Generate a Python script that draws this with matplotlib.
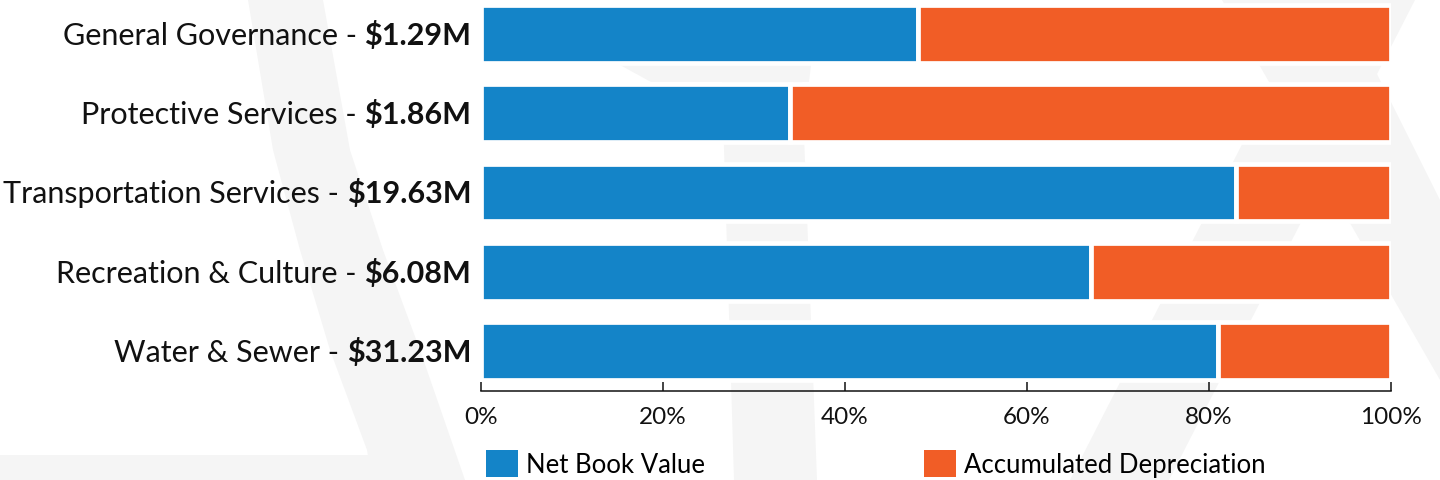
import matplotlib.pyplot as plt
from matplotlib.patches import Patch, Polygon

categories = ["General Governance", "Protective Services", "Transportation Services",
              "Recreation & Culture", "Water & Sewer"]
totals = ["$1.29M", "$1.86M", "$19.63M", "$6.08M", "$31.23M"]
net_book_value = [48.0, 34.0, 83.0, 67.0, 81.0]
accumulated_depreciation = [52.0, 66.0, 17.0, 33.0, 19.0]
x_ticks = [0, 20, 40, 60, 80, 100]
series_names = ["Net Book Value", "Accumulated Depreciation"]

BLUE = "#1484C8"
ORANGE = "#F15D26"
WATERMARK = "#F5F5F5"

W, H = 1440, 480
plt.rcParams["font.family"] = ["Lato", "DejaVu Sans"]

fig = plt.figure(figsize=(W / 100, H / 100), dpi=100)

# faint background logo shapes (pixel coords, y from the top)
shapes = [
    [(248, 0), (323, 0), (350, 150), (383, 250), (420, 350), (465, 480),
     (372, 480), (367, 450), (330, 350), (300, 250), (273, 150)],
    [(0, 455), (370, 455), (378, 480), (0, 480)],
    [(620, 65), (811, 65), (809, 82), (802, 82), (817, 480), (734, 480), (722, 82), (651, 82)],
    [(1070, 480), (1169, 480), (1415, 0), (1316, 0)],
    [(1222, 0), (1340, 0), (1440, 200), (1440, 380)],
]
for pts in shapes:
    fig.patches.append(Polygon([(x / W, 1 - y / H) for x, y in pts], closed=True,
                               transform=fig.transFigure, facecolor=WATERMARK,
                               edgecolor="none", zorder=-1))

ax = fig.add_axes([481 / W, 1 - 390.7 / H, 910 / W, 390.7 / H])
ax.patch.set_visible(False)

y = list(range(len(categories)))
ax.barh(y, net_book_value, height=0.727, color=BLUE, edgecolor="white", linewidth=3.4)
ax.barh(y, accumulated_depreciation, left=net_book_value, height=0.727, color=ORANGE,
        edgecolor="white", linewidth=3.4)

ax.set_xlim(0, 100)
ax.set_ylim(4.5, -0.425)
ax.set_yticks([])
ax.set_xticks(x_ticks)
ax.set_xticklabels([f"{t}%" for t in x_ticks])
ax.tick_params(axis="x", direction="in", length=6.5, width=1.1, pad=12,
               labelsize=17.5, colors="#111111")
for s in ["top", "right", "left"]:
    ax.spines[s].set_visible(False)
ax.spines["bottom"].set_linewidth(1.1)
ax.spines["bottom"].set_color("#111111")

# category labels: regular name + bold total
for i, (name, total) in enumerate(zip(categories, totals)):
    bold = ax.annotate(total, xy=(0, i), xycoords=("axes fraction", "data"),
                       xytext=(-7, -7.8), textcoords="offset points",
                       ha="right", va="baseline", fontsize=22, fontweight="bold",
                       color="#111111", annotation_clip=False)
    ax.annotate(name + " - ", xy=(0, 0), xycoords=bold, ha="right", va="bottom",
                fontsize=22, color="#111111", annotation_clip=False)

# legend, one entry per box so the two can sit where they do in the original
for name, color, x0 in zip(series_names, [BLUE, ORANGE], [486, 924]):
    fig.legend(handles=[Patch(facecolor=color, edgecolor="none", label=name)],
               loc="center left", bbox_to_anchor=(x0 / W, 16 / H), frameon=False,
               fontsize=18.5, handlelength=1.245, handleheight=1.245,
               handletextpad=0.3, borderpad=0, borderaxespad=0)

fig.savefig("out.png", dpi=100)
